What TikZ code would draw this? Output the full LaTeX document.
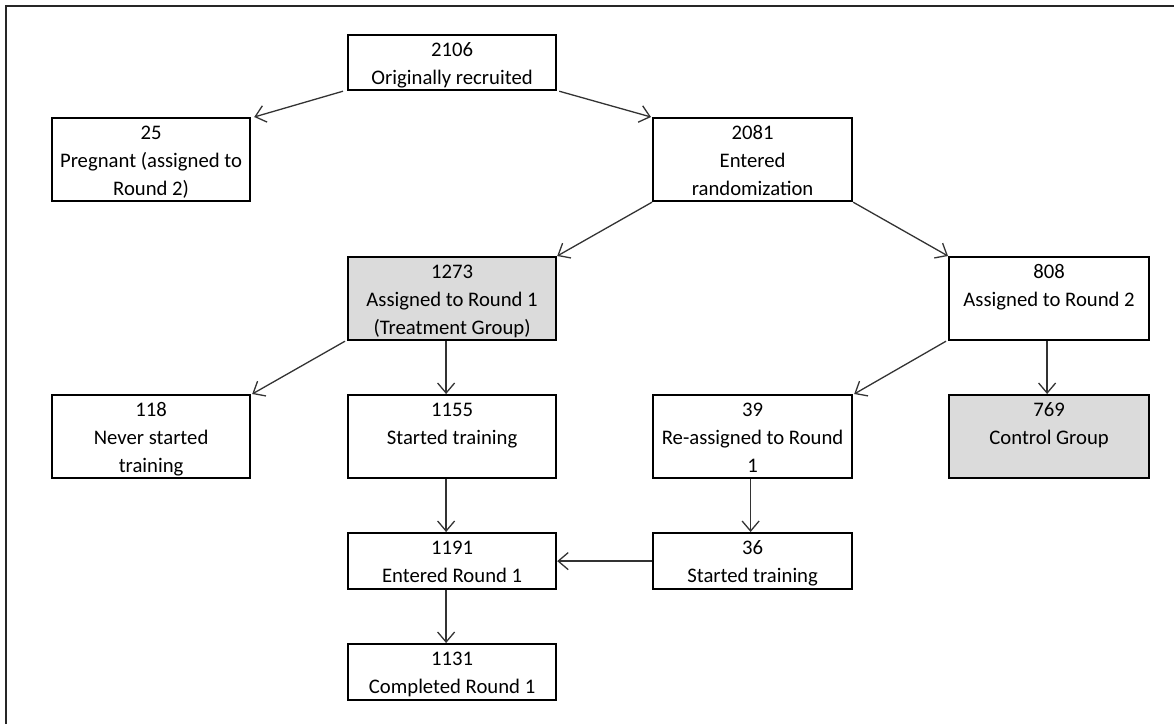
\documentclass[tikz,border=0pt]{standalone}
\usepackage{fontspec}
\setmainfont{Carlito}
\usetikzlibrary{arrows.meta}
\tikzset{
  box/.style={draw=black, line width=2.2pt, inner sep=0pt, anchor=north west},
  shaded/.style={box, fill=black!14},
  conn/.style={draw=black!80, line width=1.3pt, -{Straight Barb[length=10pt,width=17pt,line width=1.3pt]}},
  frame/.style={draw=black!85, line width=2pt}
}
% \bx{style}{name}{x1}{y1}{x2}{y2}{text}
\newcommand{\bx}[7]{%
  \pgfmathsetmacro{\bw}{#5-#3}\pgfmathsetmacro{\bh}{#6-#4}%
  \node[#1] (#2) at (#3,#4) {\parbox[t][\bh pt][t]{\bw pt}{\centering\fontsize{20.7}{28}\selectfont\rule{0pt}{21.5pt}#7}};}
\begin{document}
\begin{tikzpicture}[x=1pt,y=-1pt]
\useasboundingbox (0,0) rectangle (1174,724);
\draw[frame] (6,724) -- (6,6) -- (1174,6);

\bx{box}{orig}{347}{34}{555}{89}{2106\\Originally recruited}
\bx{box}{preg}{51}{117}{249}{200}{25\\Pregnant (assigned to\\Round 2)}
\bx{box}{rand}{652}{117}{851}{200}{2081\\Entered\\randomization}
\bx{shaded}{r1}{347}{256}{555}{339}{1273\\Assigned to Round 1\\(Treatment Group)}
\bx{box}{r2}{948}{256}{1148}{339}{808\\Assigned to Round 2}
\bx{box}{never}{51}{394}{249}{477}{118\\Never started\\training}
\bx{box}{start}{347}{394}{555}{477}{1155\\Started training}
\bx{box}{reas}{652}{394}{851}{477}{39\\Re-assigned to Round\\1}
\bx{shaded}{ctrl}{948}{394}{1148}{477}{769\\Control Group}
\bx{box}{enter}{347}{532}{555}{588}{1191\\Entered Round 1}
\bx{box}{start2}{652}{532}{851}{588}{36\\Started training}
\bx{box}{comp}{347}{643}{555}{699}{1131\\Completed Round 1}

\draw[conn] ([xshift=-4pt]orig.south west) -- ([xshift=3pt]preg.north east);
\draw[conn] ([xshift=2pt]orig.south east) -- ([xshift=-1pt]rand.north west);
\draw[conn] (rand.south west) -- (r1.north east);
\draw[conn] (rand.south east) -- (r2.north west);
\draw[conn] ([xshift=-2pt]r1.south west) -- ([xshift=1pt]never.north east);
\draw[conn] ([xshift=-2pt]r2.south west) -- ([xshift=1pt]reas.north east);
\draw[conn] ([xshift=-6pt]r1.south) -- ([xshift=-6pt]start.north);
\draw[conn] ([xshift=-2pt]r2.south) -- ([xshift=-2pt]ctrl.north);
\draw[conn] ([xshift=-6pt]start.south) -- ([xshift=-6pt]enter.north);
\draw[conn] ([xshift=-2pt]reas.south) -- ([xshift=-2pt]start2.north);
\draw[conn] (start2.west) -- (enter.east);
\draw[conn] ([xshift=-6pt]enter.south) -- ([xshift=-6pt]comp.north);
\end{tikzpicture}
\end{document}
